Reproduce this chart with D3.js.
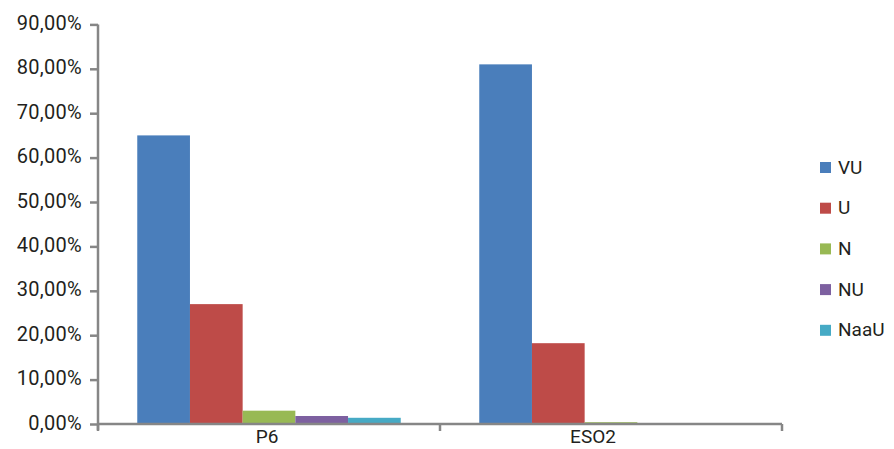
<!DOCTYPE html>
<html><head><meta charset="utf-8">
<script src="https://cdn.jsdelivr.net/npm/d3@7"></script>
<style>body{margin:0;background:#fff}svg{display:block}text{font-family:Roboto,"Open Sans",sans-serif;fill:#231f20}</style>
</head><body><svg id="c" width="894" height="449"></svg>
<script>
const categories = ["P6", "ESO2"];
const seriesNames = ["VU", "U", "N", "NU", "NaaU"];
const colors = ["#4a7ebb", "#be4b48", "#98b954", "#7d60a0", "#46aac5"];
const valuesP6 = [65.0, 27.0, 3.0, 1.8, 1.4];
const valuesESO2 = [81.0, 18.2, 0.4, 0, 0];
const yTicks = [0, 10, 20, 30, 40, 50, 60, 70, 80, 90];

(function () {
const data = [valuesP6, valuesESO2];
const svg = d3.select("#c");
const L = 98, R = 782, T = 24.4, B = 424;
const x0 = d3.scaleBand().domain(categories).range([L, R]).paddingInner(0).paddingOuter(0);
const x1 = d3.scaleBand().domain(seriesNames).range([0, x0.bandwidth()]).paddingInner(0).paddingOuter(0.745);
const y = d3.scaleLinear().domain([0, 90]).range([B, T]);
const fmt = v => v.toFixed(2).replace(".", ",") + "%";

categories.forEach((c, ci) => {
  svg.append("g").selectAll("rect").data(seriesNames).join("rect")
    .attr("x", s => x0(c) + x1(s))
    .attr("width", x1.bandwidth())
    .attr("y", (s, i) => y(data[ci][i]))
    .attr("height", (s, i) => B - y(data[ci][i]))
    .attr("fill", (s, i) => colors[i]);
});

const ya = svg.append("g").attr("transform", `translate(${L},0)`)
  .call(d3.axisLeft(y).tickValues(yTicks).tickFormat(fmt).tickSize(8).tickPadding(8).tickSizeOuter(0));
ya.select(".domain").attr("stroke", "#868686").attr("stroke-width", 2.5).attr("d", `M0,${T}V${B + 6}`);
ya.selectAll(".tick line").attr("stroke", "#868686").attr("stroke-width", 2.5);
ya.selectAll(".tick text").style("font-size", "20px").style("letter-spacing", "0.3px").attr("fill", "#231f20").attr("dy", "0.25em");

const xa = svg.append("g").attr("transform", `translate(0,${B})`)
  .call(d3.axisBottom(x0).tickSize(0).tickPadding(6));
xa.select(".domain").attr("stroke", "#868686").attr("stroke-width", 2.5).attr("d", `M${L},0H${R}`);
xa.selectAll(".tick text").style("font-size", "19px").attr("dx", (d, i) => i === 1 ? -18 : -2);
svg.append("g").selectAll("line").data([L, L + x0.bandwidth(), R]).join("line")
  .attr("x1", d => d).attr("x2", d => d).attr("y1", B).attr("y2", B + 7)
  .attr("stroke", "#868686").attr("stroke-width", 2.5);

const lg = svg.append("g").selectAll("g").data(seriesNames).join("g")
  .attr("transform", (d, i) => `translate(820,${167 + i * 40.7})`);
lg.append("rect").attr("x", 0).attr("y", -5).attr("width", 11).attr("height", 11).attr("fill", (d, i) => colors[i]);
lg.append("text").attr("x", 18).attr("y", 0).attr("dy", "0.35em").style("font-size", "19px").text(d => d);
})();
</script></body></html>
